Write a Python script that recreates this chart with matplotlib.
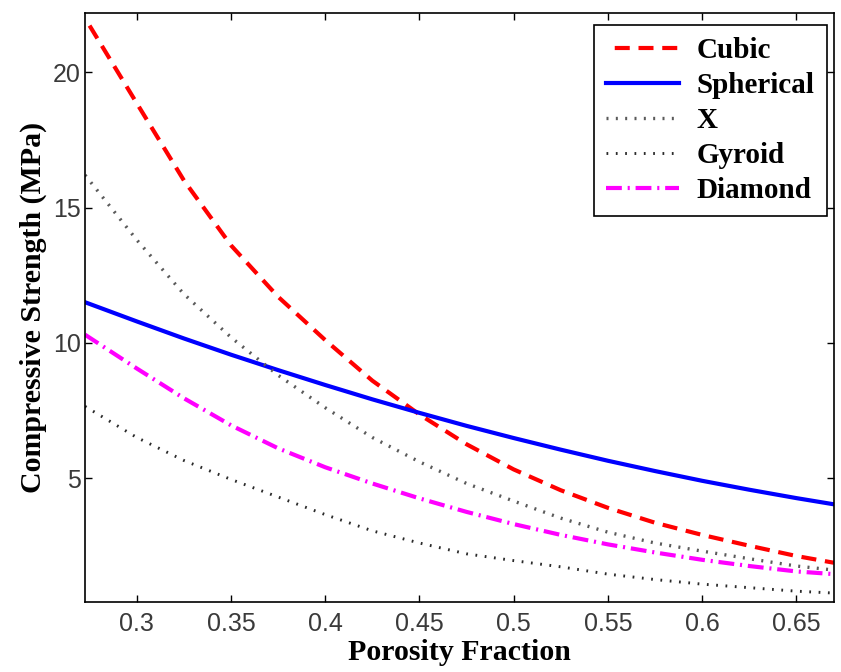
#!/usr/bin/env python3
"""Compressive strength vs porosity fraction for five lattice unit cells."""
import matplotlib
matplotlib.use("Agg")
import matplotlib.pyplot as plt

porosity = [0.2725, 0.30, 0.325, 0.35, 0.375, 0.40, 0.425, 0.45, 0.475,
            0.50, 0.525, 0.55, 0.575, 0.60, 0.625, 0.65, 0.67]

cubic = [22.0, 18.85, 16.0, 13.6, 11.7, 10.1, 8.6, 7.35, 6.25,
         5.32, 4.55, 3.9, 3.35, 2.9, 2.5, 2.12, 1.87]
spherical = [11.5, 10.79, 10.16, 9.56, 8.99, 8.44, 7.91, 7.41, 6.93,
             6.48, 6.05, 5.64, 5.26, 4.9, 4.57, 4.26, 4.03]
x_cell = [16.2, 13.8, 11.8, 10.2, 8.8, 7.6, 6.5, 5.6, 4.8,
          4.15, 3.52, 3.0, 2.6, 2.3, 2.02, 1.75, 1.6]
gyroid = [7.65, 6.5, 5.65, 4.95, 4.3, 3.65, 3.05, 2.6, 2.2,
          1.95, 1.72, 1.45, 1.25, 1.08, 0.95, 0.82, 0.75]
diamond = [10.3, 9.05, 7.95, 6.95, 6.1, 5.4, 4.8, 4.25, 3.75,
           3.3, 2.9, 2.55, 2.25, 1.98, 1.75, 1.55, 1.45]

x_ticks = [0.3, 0.35, 0.4, 0.45, 0.5, 0.55, 0.6, 0.65]
x_tick_labels = ["0.3", "0.35", "0.4", "0.45", "0.5", "0.55", "0.6", "0.65"]
y_ticks = [5, 10, 15, 20]

W, H = 841, 672
fig = plt.figure(figsize=(W / 100, H / 100), dpi=100)
ax = fig.add_axes([85 / W, 1 - 602 / H, (834 - 85) / W, (602 - 12.7) / H])

ax.plot(porosity, cubic, color="#ff0000", lw=3.0, ls=(3.6, (3.6, 2.1)), label="Cubic")
ax.plot(porosity, spherical, color="#0000ff", lw=3.0, ls="-", label="Spherical")
ax.plot(porosity, x_cell, color="#5a5a5a", lw=2.4, ls=(0, (0.6, 2.2)), label="X")
ax.plot(porosity, gyroid, color="#2a2a2a", lw=2.1, ls=(0, (0.6, 2.6)), label="Gyroid")
ax.plot(porosity, diamond, color="#ff00ff", lw=3.0, ls=(0, (3.8, 1.4, 0.5, 1.4)), label="Diamond")

ax.set_xlim(0.2725, 0.67)
ax.set_ylim(0.42, 22.2)
ax.set_xticks(x_ticks, x_tick_labels)
ax.set_yticks(y_ticks)
ax.tick_params(direction="in", length=5, width=1, top=True, right=True,
               labelsize=18, labelcolor="#3a3a3a")
ax.tick_params(axis="x", pad=7)
ax.tick_params(axis="y", pad=3)
for lab in ax.get_xticklabels() + ax.get_yticklabels():
    lab.set_family("Liberation Sans")
for sp in ax.spines.values():
    sp.set_linewidth(1.2)

lab_font = dict(family="Liberation Serif", weight="bold", size=21.5)
ax.set_xlabel("Porosity Fraction", labelpad=2, **lab_font)
ax.set_ylabel("Compressive Strength (MPa)", labelpad=4, **lab_font)

leg = ax.legend(loc="upper right", bbox_to_anchor=(827 / W, 1 - 25 / H),
                bbox_transform=fig.transFigure, borderaxespad=0,
                fancybox=False, framealpha=1, edgecolor="black",
                handlelength=2.5, handletextpad=0.6, labelspacing=0.27,
                borderpad=0.42,
                prop=dict(family="Liberation Serif", weight="bold", size=21))
leg.get_frame().set_linewidth(1.2)

fig.savefig("out.png", dpi=100)
